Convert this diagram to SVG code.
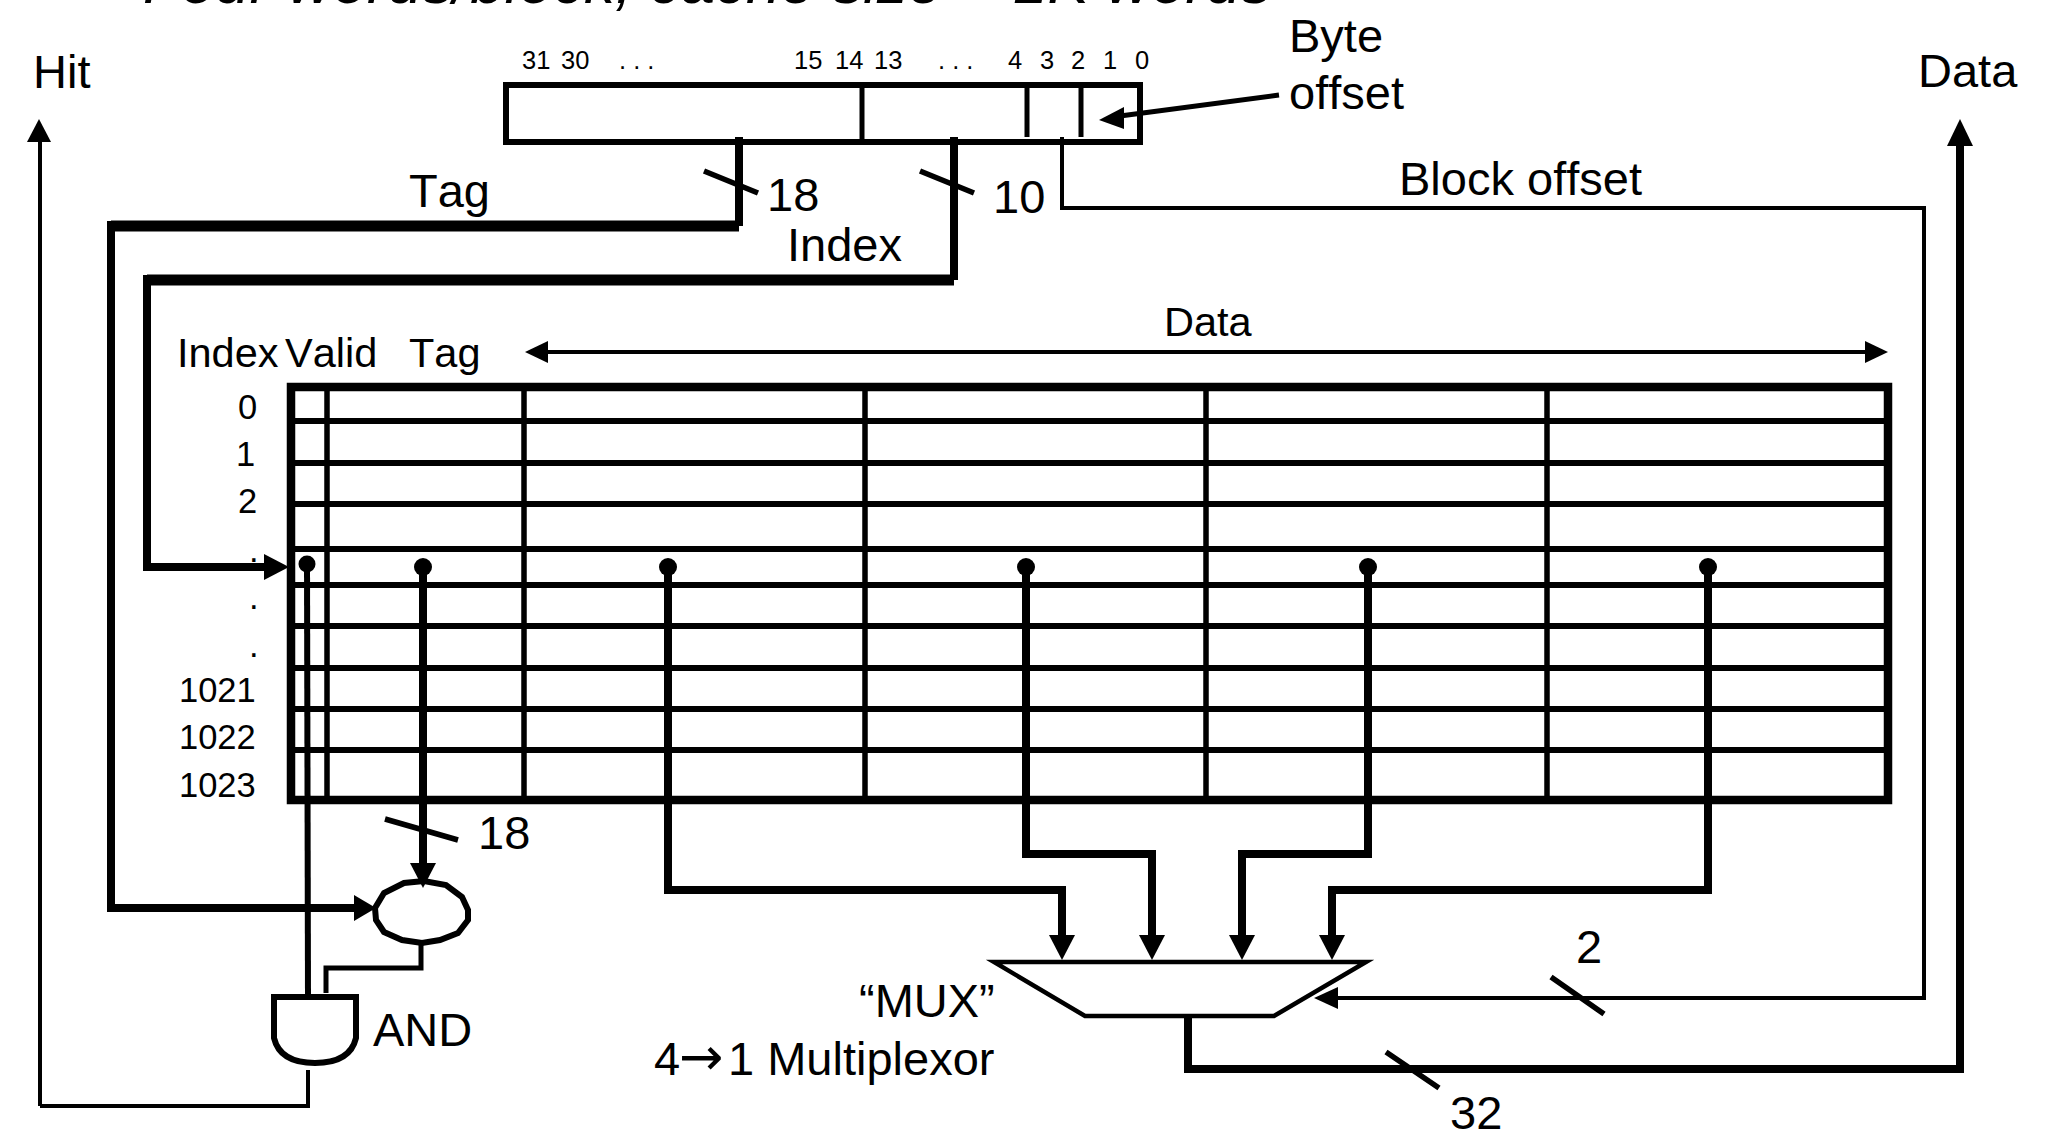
<svg xmlns="http://www.w3.org/2000/svg" width="2054" height="1132" viewBox="0 0 2054 1132">
<style>
text{font-family:"Liberation Sans",Arial,sans-serif;fill:#000;font-size:47px;font-kerning:none}
.s{font-size:41.5px}.n{font-size:34.5px}.b{font-size:25.5px}
.t{font-size:62px;font-style:italic}
.w{fill:none;stroke:#000;stroke-linejoin:miter;stroke-linecap:butt}
.h{fill:#000}
</style>
<rect width="2054" height="1132" fill="#fff"/>
<text class="t" x="143" y="3">Four  words/block, cache size = 1K words</text>
<g id="address">
<path class="w" stroke-width="6" d="M506 85H1140V142H506Z"/>
<path class="w" stroke-width="5" d="M862 85V139M1027 85V137M1081 85V137"/>
<text class="b" x="522" y="69">31</text><text class="b" x="561" y="69">30</text>
<text class="b" x="619" y="69">. . .</text>
<text class="b" x="794" y="69">15</text><text class="b" x="835" y="69">14</text><text class="b" x="874" y="69">13</text>
<text class="b" x="938" y="69">. . .</text>
<text class="b" x="1008" y="69">4</text><text class="b" x="1040" y="69">3</text><text class="b" x="1071" y="69">2</text><text class="b" x="1103" y="69">1</text><text class="b" x="1135" y="69">0</text>
</g>
<g id="cache-table">
<path class="w" stroke-width="6" d="M291 421H1888M291 463H1888M291 504H1888M291 549H1888M291 585H1888M291 626H1888M291 668H1888M291 709H1888M291 750H1888"/>
<path class="w" stroke-width="5.5" d="M327 387V800M524 387V800M865 387V800M1206 387V800M1547 387V800"/>
<rect class="w" stroke-width="8.5" x="291" y="387" width="1597" height="413"/>
<text class="s" x="177" y="367">Index</text><text class="s" x="285" y="367">Valid</text><text class="s" x="409" y="367">Tag</text>
<text class="s" x="1164" y="336">Data</text>
<text class="n" x="238" y="419">0</text><text class="n" x="236" y="466">1</text><text class="n" x="238" y="513">2</text>
<text class="n" x="249" y="562">.</text><text class="n" x="249" y="609">.</text><text class="n" x="249" y="657">.</text>
<text class="n" x="179" y="702">1021</text><text class="n" x="179" y="749">1022</text><text class="n" x="179" y="797">1023</text>
</g>
<g id="comparator">
<polygon class="w" stroke-width="6" stroke-linejoin="round" points="375,908 384,893 404,883 424,881 446,885 462,897 468,910 468,920 458,933 440,940 422,943 402,940 384,932 376,920"/>
</g>
<g id="and-gate">
<path class="w" stroke-width="6" d="M274 997H356V1038Q350 1063 315 1063Q280 1063 274 1038Z"/>
<text x="373" y="1046">AND</text>
</g>
<g id="mux">
<path class="w" stroke-width="4.5" d="M994 962H1366L1274 1016H1085Z"/>
<text x="859" y="1017">“MUX”</text>
<text x="654" y="1075">4<tspan x="679" font-family="DejaVu Sans" font-size="53">→</tspan><tspan x="728">1 Multiplexor</tspan></text>
</g>
<g id="connectors">
<path class="w" stroke-width="8" d="M739 137V226M954 137V280"/>
<path class="w" stroke-width="11" d="M739 226H111M954 280H147"/>
<path class="w" stroke-width="8" d="M111 221V908H356M147 275V567H266"/>
<polygon class="h" points="376,908 354,895 354,921"/><polygon class="h" points="289,567 264,554 264,580"/>
<path class="w" stroke-width="5.5" d="M704 171L758 193M920 171L974 193M385 819L458 840M1551 977L1604 1014M1386 1052L1439 1088"/>
<path class="w" stroke-width="4" d="M1062 137V208H1924V998H1330M40 1106H308V1070M40 1106V140"/>
<polygon class="h" points="39,119 27,142 51,142"/>
<polygon class="h" points="1314,998 1338,987 1338,1009"/>
<path class="w" stroke-width="4" d="M545 352H1868"/>
<polygon class="h" points="525,352 548,341 548,363"/><polygon class="h" points="1888,352 1865,341 1865,363"/>
<path class="w" stroke-width="5" d="M1279 95L1120 116"/>
<polygon class="h" points="1099,120 1124,107 1124,129"/>
<path class="w" stroke-width="6" d="M307 564L308 997"/>
<path class="w" stroke-width="5" d="M421 943V968H326V993"/>
<path class="w" stroke-width="8" d="M423 567V866"/>
<polygon class="h" points="423,888 410,863 436,863"/>
<circle class="h" cx="307" cy="564" r="8.5"/><circle class="h" cx="423" cy="567" r="9"/><circle class="h" cx="668" cy="567" r="9"/><circle class="h" cx="1026" cy="567" r="9"/><circle class="h" cx="1368" cy="567" r="9"/><circle class="h" cx="1708" cy="567" r="9"/>
<path class="w" stroke-width="8" d="M668 567V890H1062V937M1026 567V854H1152V937M1368 567V854H1242V937M1708 567V890H1332V937"/>
<polygon class="h" points="1062,960 1049,935 1075,935"/><polygon class="h" points="1152,960 1139,935 1165,935"/><polygon class="h" points="1242,960 1229,935 1255,935"/><polygon class="h" points="1332,960 1319,935 1345,935"/>
<path class="w" stroke-width="8" d="M1188 1016V1069H1960V144"/>
<polygon class="h" points="1960,119 1947,146 1973,146"/>
</g>
<g id="labels">
<text x="33" y="88">Hit</text><text x="1918" y="87">Data</text>
<text x="409" y="207">Tag</text><text x="767" y="211">18</text><text x="993" y="213">10</text><text x="787" y="261">Index</text>
<text x="1289" y="52">Byte</text><text x="1289" y="109">offset</text>
<text x="1399" y="195">Block offset</text>
<text x="478" y="849">18</text>
<text x="1576" y="963">2</text><text x="1450" y="1129">32</text>
</g>
</svg>
